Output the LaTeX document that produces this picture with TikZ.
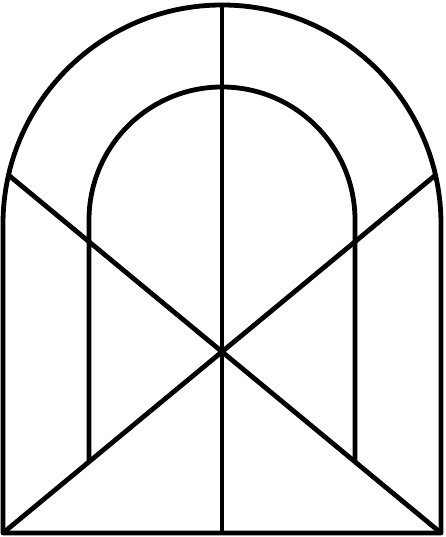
\documentclass[tikz,border=0pt]{standalone}
\usepackage{tikz}
\usetikzlibrary{calc}
\newcommand{\sashcolor}{black}
\newcommand{\sashwidth}{4.8pt}
\newcommand{\outr}{219}
\newcommand{\inr}{133}

\begin{document}
\begin{tikzpicture}[x=1pt,y=1pt]
\tikzset{sash/.style={draw=\sashcolor, line width=\sashwidth, line join=round}}
\useasboundingbox (0,0) rectangle (445,537);
\coordinate (bl) at (3,4);
\coordinate (br) at (441,4);
\coordinate (bm) at (222,4);
\coordinate (o) at (222,313);
\coordinate (i) at (222,317);
\coordinate (tm) at ($(o)+(90:\outr)$);
\coordinate (ul) at ($(o)+(167.1:\outr)$);
\coordinate (ur) at ($(o)+(12.9:\outr)$);
\coordinate (il) at ($(i)+(180:\inr)$);
\coordinate (ir) at ($(i)+(0:\inr)$);
\coordinate (ilx) at ($(il)+(0,-300)$);
\coordinate (irx) at ($(ir)+(0,-300)$);
\coordinate (ilb) at (intersection of il--ilx and bl--ur);
\coordinate (irb) at (intersection of ir--irx and br--ul);
%outer arch
\draw[sash] (bl) -- (3,313) arc (180:0:\outr) -- (br) -- cycle;
%inner arch
\draw[sash] (ilb) -- (il) arc (180:0:\inr) -- (irb);
%cross
\draw[sash] (bl) -- (ur);
\draw[sash] (br) -- (ul);
\draw[sash] (tm) -- (bm);
\end{tikzpicture}
\end{document}
